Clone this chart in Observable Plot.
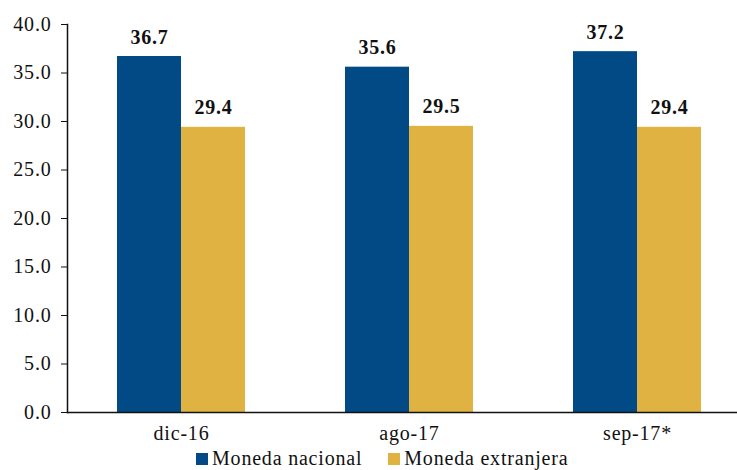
<!DOCTYPE html>
<html>
<head>
<meta charset="utf-8">
<script src="https://cdn.jsdelivr.net/npm/d3@7"></script>
<script src="https://cdn.jsdelivr.net/npm/@observablehq/plot@0.6"></script>
<style>
  html, body { margin: 0; padding: 0; background: #fff; }
  #chart svg { overflow: hidden; }
  .legend { font-family: "Liberation Serif", serif; font-size: 20px; letter-spacing: 0.8px; color: #111;
            height: 23px; line-height: 23px; padding-left: 196px; white-space: nowrap; }
  .legend span.sw { display: inline-block; width: 12px; height: 12px; margin-right: 4px; vertical-align: 0px; }
  .legend span.item { margin-right: 26px; }
</style>
</head>
<body>
<div id="chart"></div>
<script>
const categories = ["dic-16", "ago-17", "sep-17*"];
const seriesNames = ["Moneda nacional", "Moneda extranjera"];
const nacional = [36.7, 35.6, 37.2];
const extranjera = [29.4, 29.5, 29.4];
const yTicks = [0, 5, 10, 15, 20, 25, 30, 35, 40];
const colors = ["#024a86", "#e0b242"];

const data = [];
categories.forEach((c, i) => {
  data.push({cat: c, series: seriesNames[0], value: nacional[i]});
  data.push({cat: c, series: seriesNames[1], value: extranjera[i]});
});

const plot = Plot.plot({
  width: 737,
  height: 447,
  marginLeft: 67,
  marginRight: -14,
  marginTop: 24,
  marginBottom: 35,
  style: {fontFamily: "'Liberation Serif', serif", fontSize: "20px", color: "#111", letterSpacing: "0.8px", overflow: "hidden"},
  fx: {domain: categories, paddingInner: 0, paddingOuter: 0, label: null, tickSize: 0, tickPadding: 13},
  x: {domain: seriesNames, paddingInner: 0, paddingOuter: 0.754, axis: null},
  y: {domain: [0, 40], ticks: yTicks, tickFormat: d => d.toFixed(1), tickSize: 6, tickPadding: 10, label: null},
  color: {domain: seriesNames, range: colors},
  marks: [
    Plot.barY(data, {fx: "cat", x: "series", y: "value", fill: "series"}),
    Plot.frame({anchor: "left", facet: "super", stroke: "#111", strokeWidth: 1.5}),
    Plot.frame({anchor: "bottom", facet: "super", stroke: "#111", strokeWidth: 1.5}),
    Plot.text(data, {fx: "cat", x: "series", y: "value", text: d => d.value.toFixed(1), lineAnchor: "bottom", dy: -13, fontWeight: "bold", fill: "#111"})
  ]
});
document.getElementById("chart").appendChild(plot);

const legend = document.createElement("div");
legend.className = "legend";
seriesNames.forEach((s, i) => {
  const item = document.createElement("span");
  item.className = "item";
  const sw = document.createElement("span");
  sw.className = "sw";
  sw.style.background = colors[i];
  item.appendChild(sw);
  item.appendChild(document.createTextNode(s));
  legend.appendChild(item);
});
document.getElementById("chart").appendChild(legend);
</script>
</body>
</html>
